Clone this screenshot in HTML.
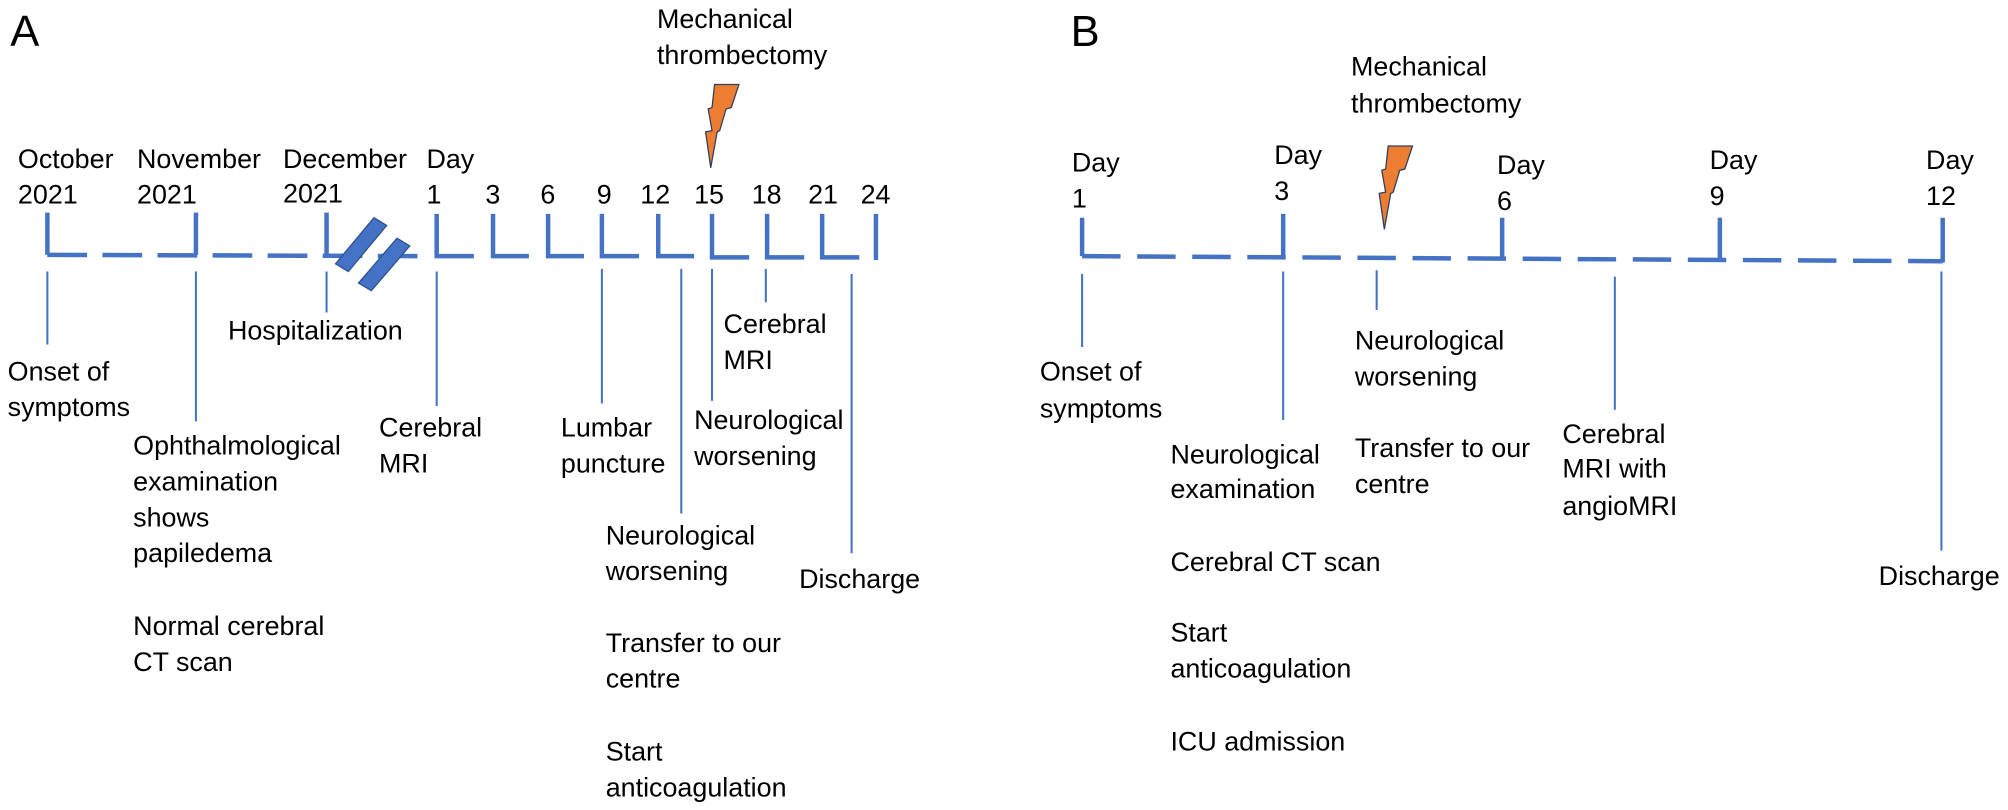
<!DOCTYPE html>
<html><head><meta charset="utf-8"><style>
html,body{margin:0;padding:0;background:#fff;}
svg{display:block;}
text{font-family:"Liberation Sans",sans-serif;font-size:21px;fill:#000;}
.big{font-size:34px;}
.ax{stroke:#4472C4;stroke-width:3.5;fill:none;}
.ld{stroke:#4472C4;stroke-width:1.6;fill:none;}
</style></head><body>
<svg width="2008" height="810" viewBox="0 0 1568 632.5" xmlns="http://www.w3.org/2000/svg">
<rect width="1568" height="632.5" fill="#fff"/>
<!-- Panel A -->
<text class="big" x="8" y="36">A</text>
<text x="513" y="22">Mechanical</text>
<text x="513" y="50">thrombectomy</text>
<polygon points="558,66 577,66 571,84 567,85 562,102 560,103 555,131 551,103 556,102 553,85 556,84" fill="#ED7D31" stroke="#2F3F5F" stroke-width="1"/>

<text x="14" y="131">October</text><text x="14" y="159">2021</text>
<text x="107" y="131">November</text><text x="107" y="159">2021</text>
<text x="221" y="131">December</text><text x="221" y="158">2021</text>
<text x="333" y="131">Day</text>
<text x="333" y="159">1</text>
<text x="379" y="159">3</text>
<text x="422" y="159">6</text>
<text x="466" y="159">9</text>
<text x="500" y="159">12</text>
<text x="542" y="159">15</text>
<text x="587" y="159">18</text>
<text x="631" y="159">21</text>
<text x="672" y="159">24</text>

<!-- ticks -->
<g class="ax">
<line x1="37" y1="166" x2="37" y2="199"/>
<line x1="153" y1="166" x2="153" y2="199"/>
<line x1="255" y1="166" x2="255" y2="199"/>
<line x1="37" y1="199" x2="330" y2="200" stroke-dasharray="31 12"/>
<path d="M341 167 V200 H370 M385 167 V200 H413 M428 167 V200 H456 M470 167 V200 H499 M514 167 V200 H542 M556 167 V201 H585 M599 167 V201 H628 M642 167 V201 H671 M684 167 V203"/>
</g>
<!-- break -->
<g fill="#4472C4" stroke="#2F528F" stroke-width="1">
<polygon points="262,206 272,212 302,176 292,170"/>
<polygon points="280,221 290,227 320,192 310,186"/>
</g>
<!-- leaders A -->
<g class="ld">
<line x1="37" y1="212" x2="37" y2="269"/>
<line x1="153" y1="212" x2="153" y2="329"/>
<line x1="255" y1="212" x2="255" y2="244"/>
<line x1="341" y1="212" x2="341" y2="317"/>
<line x1="470" y1="210" x2="470" y2="315"/>
<line x1="532" y1="210" x2="532" y2="401"/>
<line x1="556" y1="210" x2="556" y2="313"/>
<line x1="598" y1="210" x2="598" y2="236"/>
<line x1="665" y1="214" x2="665" y2="432"/>
</g>
<text x="178" y="265">Hospitalization</text>
<text x="6" y="297">Onset of</text><text x="6" y="325">symptoms</text>
<text x="104" y="355">Ophthalmological</text>
<text x="104" y="383">examination</text>
<text x="104" y="411">shows</text>
<text x="104" y="439">papiledema</text>
<text x="104" y="496">Normal cerebral</text>
<text x="104" y="524">CT scan</text>
<text x="296" y="341">Cerebral</text><text x="296" y="369">MRI</text>
<text x="438" y="341">Lumbar</text><text x="438" y="369">puncture</text>
<text x="565" y="260">Cerebral</text><text x="565" y="288">MRI</text>
<text x="542" y="335">Neurological</text><text x="542" y="363">worsening</text>
<text x="473" y="425">Neurological</text><text x="473" y="453">worsening</text>
<text x="473" y="509">Transfer to our</text><text x="473" y="537">centre</text>
<text x="473" y="594">Start</text><text x="473" y="622">anticoagulation</text>
<text x="624" y="459">Discharge</text>

<!-- Panel B -->
<text class="big" x="836" y="36">B</text>
<text x="1055" y="59">Mechanical</text>
<text x="1055" y="88">thrombectomy</text>
<polygon points="1084,114 1103,114 1097,132 1093,133 1088,150 1086,151 1081,179 1077,151 1082,150 1079,133 1082,132" fill="#ED7D31" stroke="#2F3F5F" stroke-width="1"/>

<text x="837" y="134">Day</text><text x="837" y="162">1</text>
<text x="995" y="128">Day</text><text x="995" y="156">3</text>
<text x="1169" y="136">Day</text><text x="1169" y="164">6</text>
<text x="1335" y="132">Day</text><text x="1335" y="160">9</text>
<text x="1504" y="132">Day</text><text x="1504" y="160">12</text>

<g class="ax">
<line x1="845" y1="170" x2="845" y2="200"/>
<line x1="1002" y1="167" x2="1002" y2="201"/>
<line x1="1173" y1="170" x2="1173" y2="202"/>
<line x1="1343" y1="170" x2="1343" y2="203"/>
<line x1="1517" y1="170" x2="1517" y2="205"/>
<line x1="845" y1="200" x2="1517" y2="204" stroke-dasharray="30 13"/>
</g>
<g class="ld">
<line x1="845" y1="214" x2="845" y2="271"/>
<line x1="1002" y1="212" x2="1002" y2="328"/>
<line x1="1075" y1="211" x2="1075" y2="242"/>
<line x1="1261" y1="216" x2="1261" y2="320"/>
<line x1="1516" y1="212" x2="1516" y2="430"/>
</g>
<text x="812" y="297">Onset of</text><text x="812" y="326">symptoms</text>
<text x="1058" y="273">Neurological</text><text x="1058" y="301">worsening</text>
<text x="914" y="362">Neurological</text><text x="914" y="389">examination</text>
<text x="1058" y="357">Transfer to our</text><text x="1058" y="385">centre</text>
<text x="1220" y="346">Cerebral</text><text x="1220" y="373">MRI with</text><text x="1220" y="402">angioMRI</text>
<text x="914" y="446">Cerebral CT scan</text>
<text x="914" y="501">Start</text><text x="914" y="529">anticoagulation</text>
<text x="914" y="586">ICU admission</text>
<text x="1467" y="457">Discharge</text>
</svg>
</body></html>
